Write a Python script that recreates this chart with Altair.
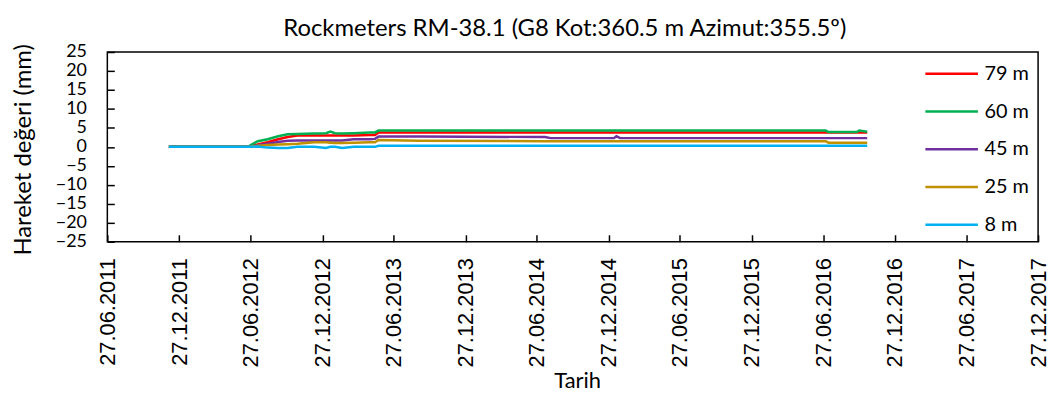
import altair as alt
import pandas as pd

# ---- data ----
dates = ["2011-12-01", "2012-06-20", "2012-06-27", "2012-07-15", "2012-08-09",
         "2012-09-05", "2012-09-29", "2012-10-24", "2012-12-06", "2013-01-05",
         "2013-01-16", "2013-01-28", "2013-02-15", "2013-03-17", "2013-04-27",
         "2013-05-10", "2013-05-19", "2013-08-31", "2014-07-18", "2014-08-01",
         "2015-01-10", "2015-01-16", "2015-01-25", "2016-07-03", "2016-07-10",
         "2016-09-20", "2016-09-27", "2016-10-17"]

s79 = [0, 0, 0.2, 0.6, 1.2, 2.0, 2.6, 3.0, 3.0, 3.0, 3.0, 3.0, 3.0, 3.0, 3.1,
       3.1, 3.8, 3.8, 3.8, 3.8, 3.8, 3.8, 3.8, 3.8, 3.8, 3.8, 3.8, 3.8]
s60 = [0, 0, 0.5, 1.5, 2.0, 2.8, 3.3, 3.4, 3.5, 3.6, 4.0, 3.6, 3.5, 3.6, 3.8,
       3.8, 4.3, 4.3, 4.3, 4.3, 4.3, 4.3, 4.3, 4.3, 3.9, 3.9, 4.3, 4.0]
s45 = [0, 0, 0.1, 0.4, 0.8, 1.3, 1.6, 1.7, 1.7, 1.7, 1.7, 1.7, 1.7, 2.0, 2.0,
       2.1, 2.7, 2.7, 2.6, 2.3, 2.3, 2.8, 2.3, 2.3, 2.3, 2.3, 2.3, 2.3]
s25 = [0, 0, 0.1, 0.3, 0.5, 0.6, 0.7, 0.8, 1.2, 1.2, 1.1, 1.0, 1.0, 1.1, 1.2,
       1.2, 1.8, 1.6, 1.5, 1.5, 1.5, 1.5, 1.5, 1.5, 1.1, 1.1, 1.1, 1.1]
s8 = [0, 0, 0, 0.1, -0.2, -0.3, -0.3, 0.0, 0.0, -0.3, 0.0, 0.0, -0.3, 0.0, 0.0,
      0.0, 0.3, 0.3, 0.3, 0.3, 0.3, 0.3, 0.3, 0.3, 0.3, 0.3, 0.3, 0.3]

series_names = ["79 m", "60 m", "45 m", "25 m", "8 m"]
series_values = [s79, s60, s45, s25, s8]
series_colors = ["#FF0000", "#00B050", "#7030A0", "#BF9000", "#00B0F0"]

x_ticks = ["2011-06-27", "2011-12-27", "2012-06-27", "2012-12-27", "2013-06-27",
           "2013-12-27", "2014-06-27", "2014-12-27", "2015-06-27", "2015-12-27",
           "2016-06-27", "2016-12-27", "2017-06-27", "2017-12-27"]
y_ticks = [-25, -20, -15, -10, -5, 0, 5, 10, 15, 20, 25]

rows = []
for name, vals in zip(series_names, series_values):
    for d, v in zip(dates, vals):
        rows.append({"Tarih": d, "Deger": v, "Seri": name})
df = pd.DataFrame(rows)

FONT = "Lato"
ARIAL = "Liberation Sans"

x_tick_values = [alt.DateTime(year=int(t[:4]), month=int(t[5:7]), date=int(t[8:10]))
                 for t in x_ticks]

chart = alt.Chart(df).mark_line(strokeWidth=2.5).encode(
    x=alt.X("Tarih:T",
            scale=alt.Scale(domain=[x_tick_values[0], x_tick_values[-1]]),
            axis=alt.Axis(values=x_tick_values, format="%d.%m.%Y", labelAngle=-90,
                          labelFont=ARIAL, labelFontSize=22, labelColor="black",
                          labelPadding=16, labelOverlap=False, labelBound=False,
                          offset=-7, tickSize=7, tickColor="black", tickWidth=1.5,
                          domain=False, grid=False,
                          title="Tarih", titleFont=FONT, titleFontSize=22,
                          titleFontWeight="normal", titleColor="black",
                          titleX=473, titleY=154, titleBaseline="alphabetic")),
    y=alt.Y("Deger:Q",
            scale=alt.Scale(domain=[-25, 25], nice=False),
            axis=alt.Axis(values=y_ticks, labelFont=FONT, labelFontSize=18,
                          labelColor="black", labelPadding=21, labelOverlap=False,
                          labelBound=False,
                          offset=-7, tickSize=7, tickColor="black", tickWidth=1.5,
                          domain=False, grid=False,
                          title="Hareket değeri (mm)", titleFont=FONT, titleFontSize=24,
                          titleFontWeight="normal", titleColor="black",
                          titleX=-91, titleY=98, titleBaseline="middle",
                          titleAlign="center", titleAngle=-90)),
    color=alt.Color("Seri:N",
                    scale=alt.Scale(domain=series_names, range=series_colors),
                    legend=alt.Legend(orient="none", legendX=822, legendY=-6,
                                      title=None, symbolType="stroke",
                                      symbolSize=2800, symbolStrokeWidth=2.5,
                                      labelFont=FONT, labelFontSize=20,
                                      labelColor="black", labelOffset=5,
                                      rowPadding=-18, padding=0)),
    detail="Seri:N",
).properties(
    width=937,
    height=191,
    title=alt.Title("Rockmeters RM-38.1 (G8 Kot:360.5 m Azimut:355.5º)",
                    font=FONT, fontSize=24, fontWeight="normal", color="black",
                    anchor="middle", dx=-8, offset=2),
    autosize=alt.AutoSizeParams(type="none"),
    padding={"left": 100, "top": 43, "right": 13, "bottom": 150},
).configure_view(stroke="black", strokeWidth=1.5)

chart.save("out.html", embed_options={"renderer": "svg", "actions": False})
